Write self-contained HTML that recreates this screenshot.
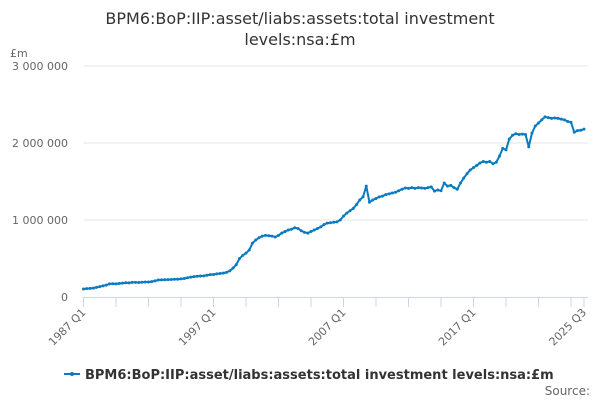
<!DOCTYPE html>
<html><head><meta charset="utf-8"><style>
body{margin:0;background:#fff;font-family:"Liberation Sans",sans-serif;}
svg text{font-family:"DejaVu Sans","Liberation Sans",sans-serif;}
</style></head><body>
<svg id="chart" width="600" height="400" xmlns="http://www.w3.org/2000/svg">
<text x="300" y="24" text-anchor="middle" font-size="16" fill="#333">BPM6:BoP:IIP:asset/liabs:assets:total investment</text>
<text x="300" y="45" text-anchor="middle" font-size="16" fill="#333">levels:nsa:£m</text>
<text x="10" y="57" font-size="11" fill="#666">£m</text>
<g id="grid"></g><g id="xaxis"></g><g id="series"></g>
<g>
<line x1="64" y1="374" x2="80" y2="374" stroke="#0a7bc0" stroke-width="2"/>
<circle cx="72" cy="374" r="2" fill="#0a7bc0"/>
<text x="85" y="379" font-size="13" font-weight="bold" fill="#333">BPM6:BoP:IIP:asset/liabs:assets:total investment levels:nsa:£m</text>
</g>
<text x="590" y="395" text-anchor="end" font-size="12" fill="#666">Source:</text>
</svg>
<script>
const yTicks=[0,1000000,2000000,3000000];
const yTickLabels=["0","1 000 000","2 000 000","3 000 000"];
const xTickLabels=["1987 Q1","1997 Q1","2007 Q1","2017 Q1","2025 Q3"];
const xLabelIdx=[0,40,80,120,154];
const values=[104,108,112,116,125,135,145,155,170,172,170,175,180,185,183,190,190,188,192,195,195,200,210,220,222,224,226,228,230,230,235,240,250,258,265,270,272,275,282,290,292,300,305,310,320,340,375,420,500,540,570,610,700,740,770,790,800,795,790,780,800,830,850,870,880,900,890,860,840,830,850,870,890,910,940,960,965,970,975,1000,1050,1090,1120,1150,1200,1260,1300,1440,1230,1260,1280,1300,1310,1330,1340,1350,1360,1380,1400,1415,1410,1420,1410,1420,1415,1410,1420,1430,1375,1390,1380,1480,1440,1450,1420,1400,1480,1545,1600,1650,1680,1710,1740,1760,1750,1760,1730,1750,1830,1930,1910,2050,2100,2120,2110,2115,2110,1950,2130,2220,2260,2300,2340,2330,2320,2325,2320,2310,2300,2280,2270,2140,2160,2165,2180].map(v=>v*1000);
const NS="http://www.w3.org/2000/svg";
const x0=83.5,x1=584,y0=297,pxPerM=77;
const N=values.length;
function xs(i){return x0+(x1-x0)*i/(N-1);}
function ys(v){return y0-v/1e6*pxPerM;}
function mk(t,a,p){const e=document.createElementNS(NS,t);for(const k in a)e.setAttribute(k,a[k]);p.appendChild(e);return e;}
const grid=document.getElementById('grid');
yTicks.forEach((t,i)=>{
 if(i>0){const l=mk('line',{x1:x0,x2:x1+4,y1:ys(t),y2:ys(t),stroke:'#e6e6e6'},grid);
 
 }
 const tx=mk('text',{x:68,y:ys(t)+4,'text-anchor':'end','font-size':11,fill:'#666'},grid);
 tx.textContent=yTickLabels[i];
 
 
});
const xa=document.getElementById('xaxis');
const ax=mk('line',{x1:x0-1,x2:x1+4,y1:y0+0.5,y2:y0+0.5,stroke:'#ccd6eb'},xa);


for(let i=0;i<N;i+=10){const t=mk('line',{x1:xs(i),x2:xs(i),y1:y0,y2:y0+10,stroke:'#ccd6eb'},xa);
 
 }
mk('line',{x1:xs(N-1),x2:xs(N-1),y1:y0,y2:y0+10,stroke:'#ccd6eb'},xa);
xTickLabels.forEach((lab,k)=>{
 const x=xs(xLabelIdx[k]);
 const t=mk('text',{x:x+3,y:y0+16,'text-anchor':'end','font-size':11,fill:'#666',transform:`rotate(-45 ${x+3} ${y0+16})`},xa);
 t.textContent=lab;
 
 
});
const s=document.getElementById('series');
const pl=mk('polyline',{points:values.map((v,i)=>xs(i)+','+ys(v)).join(' '),fill:'none',stroke:'#0a7bc0','stroke-width':2,'stroke-linejoin':'round'},s);


values.forEach((v,i)=>{const c=mk('circle',{cx:xs(i),cy:ys(v),r:1.5,fill:'#0a7bc0'},s);
 
 });
</script>
</body></html>
